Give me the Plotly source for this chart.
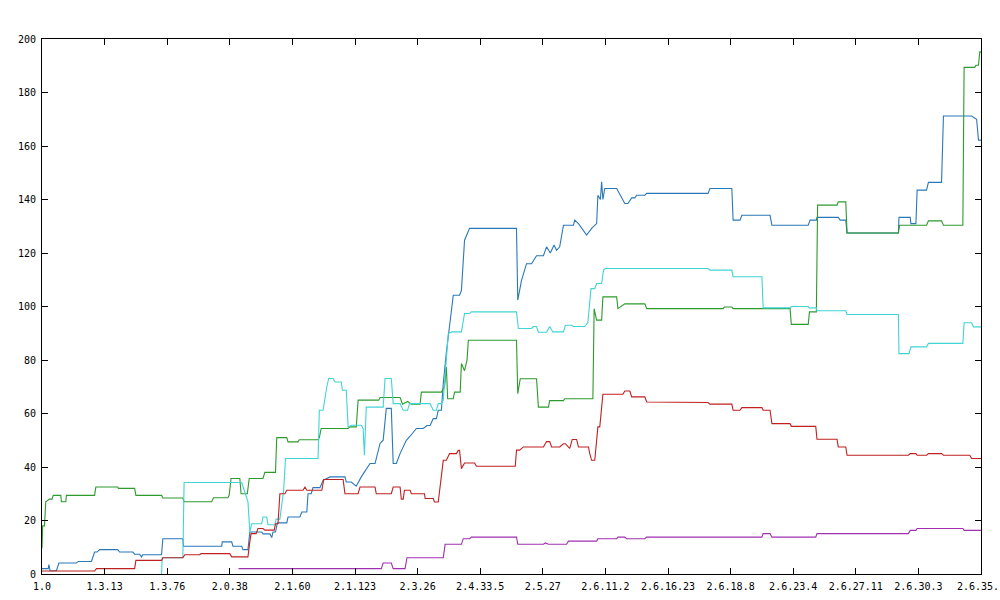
import plotly.graph_objects as go

# x positions are in tick-label units (0 = "1.0", 15 = "2.6.35.x")
tick_labels = ["1.0", "1.3.13", "1.3.76", "2.0.38", "2.1.60", "2.1.123", "2.3.26",
               "2.4.33.5", "2.5.27", "2.6.11.2", "2.6.16.23", "2.6.18.8", "2.6.23.4",
               "2.6.27.11", "2.6.30.3", "2.6.35.1"]
y_ticks = [0, 20, 40, 60, 80, 100, 120, 140, 160, 180, 200]

blue_x = [0, 0.10, 0.11, 0.13, 0.23, 0.27, 0.55, 0.58, 0.79, 0.84, 0.88, 0.92, 1.21, 1.24, 1.45,
          1.48, 1.56, 1.59, 1.61, 1.91, 1.93, 2.25, 2.26, 2.87, 2.88, 3.03, 3.05, 3.19, 3.21, 3.29,
          3.32, 3.51, 3.53, 3.64, 3.67, 3.69, 3.73, 3.76, 3.91, 3.93, 4.12, 4.15, 4.23, 4.25, 4.30,
          4.33, 4.44, 4.49, 4.60, 4.84, 4.86, 4.94, 5.02, 5.10, 5.24, 5.32, 5.40, 5.45, 5.50, 5.58,
          5.61, 5.66, 5.72, 5.82, 5.88, 5.98, 6.09, 6.15, 6.20, 6.25, 6.30, 6.33, 6.38, 6.41, 6.46,
          6.51, 6.55, 6.57, 6.67, 6.70, 6.75, 6.83, 7.58, 7.60, 7.66, 7.74, 7.82, 7.90, 8.01, 8.06,
          8.12, 8.18, 8.22, 8.27, 8.33, 8.49, 8.51, 8.57, 8.70, 8.78, 8.86, 8.88, 8.92, 8.94, 8.96,
          8.99, 9.18, 9.31, 9.36, 9.42, 9.47, 9.50, 9.63, 9.66, 10.64, 10.67, 11.02, 11.04, 11.15,
          11.18, 11.63, 11.66, 12.24, 12.27, 12.37, 12.38, 12.72, 12.75, 12.84, 12.86, 13.68, 13.69,
          13.87, 13.88, 13.96, 13.98, 14.13, 14.16, 14.37, 14.40, 14.85, 14.93, 14.96, 15.0]
blue_y = [2, 2, 3.5, 1.2, 1.2, 4.1, 4.1, 4.7, 4.7, 8.2, 8.2, 9.1, 9.1, 8.2, 8.2,
          7.4, 7.4, 6.4, 7.2, 7.2, 13.2, 13.2, 10.4, 10.4, 12, 12, 10.4, 10.4, 9.1, 9.1,
          15.7, 15.7, 15, 15, 13.6, 15.7, 15.7, 19.1, 19.1, 21.3, 21.3, 23.2, 23.2, 30, 30,
          32.3, 32.3, 35, 36.3, 36.3, 34.4, 34.4, 32.8, 36.3, 41.3, 41.3, 48.8, 50, 61.9, 61.9,
          41.3, 41.3, 45, 50, 51.5, 54.4, 54.4, 55.5, 55.5, 58.1, 58.1, 61.2, 61.2, 71.2, 83,
          92, 100, 104.2, 104.2, 106, 124.8, 129.2, 129.2, 102.4, 109.8, 116, 116, 119, 119, 122.3,
          120, 123, 121, 122.3, 130.4, 130.4, 132.3, 131, 126.7, 129.2, 131, 141.6, 140, 146.6, 140,
          144.1, 144.1, 138.5, 138.5, 140.6, 140.6, 141.6, 141.6, 142.3, 142.3, 144.1, 144.1, 132.3, 132.3,
          134.1, 134.1, 130.4, 130.4, 132.3, 132.3, 133.3, 133.3, 132.3, 132.3, 127.5, 127.5, 133.3,
          133.3, 131, 131, 143.5, 143.5, 146.4, 146.4, 171.2, 171.2, 170, 162.2, 162.2]

green_x = [0, 0.01, 0.04, 0.06, 0.12, 0.16, 0.18, 0.30, 0.31, 0.38, 0.39, 0.84, 0.86, 1.21, 1.22,
           1.48, 1.50, 1.91, 1.93, 2.25, 2.27, 2.71, 2.74, 2.97, 2.99, 3.02, 3.16, 3.18, 3.28, 3.31,
           3.53, 3.56, 3.73, 3.75, 3.91, 3.93, 4.09, 4.11, 4.41, 4.43, 4.46, 4.89, 4.92, 5.02, 5.05,
           5.38, 5.40, 5.72, 5.76, 5.84, 5.90, 6.04, 6.06, 6.38, 6.43, 6.46, 6.48, 6.57, 6.59, 6.68,
           6.70, 6.75, 6.79, 6.81, 7.58, 7.60, 7.64, 7.90, 7.93, 8.09, 8.11, 8.33, 8.35, 8.80, 8.82,
           8.86, 8.94, 8.96, 9.18, 9.20, 9.31, 9.63, 9.66, 10.88, 10.90, 11.02, 11.04, 11.95, 11.97,
           12.24, 12.26, 12.37, 12.39, 12.70, 12.72, 12.84, 12.86, 13.68, 13.70, 14.13, 14.16, 14.37,
           14.40, 14.71, 14.73, 14.90, 14.92, 14.96, 14.98, 15.0]
green_y = [9.5, 18, 18, 27, 28, 28, 29.4, 29.4, 27, 27, 29.4, 29.4, 32.5, 32.5, 32,
           32, 29.4, 29.4, 28.4, 28.4, 27, 27, 28.5, 28.5, 29.4, 35.7, 35.7, 30, 30, 35.7,
           35.7, 38, 38, 51, 51, 49.4, 49.4, 50.2, 50.2, 51, 54.4, 54.4, 55, 55, 65,
           65, 66, 66, 63.5, 64.5, 63.5, 63.5, 68, 68, 70, 77.4, 65.5, 65.5, 68, 68,
           78.7, 76, 80, 87.4, 87.4, 67.4, 73, 73, 62.4, 62.4, 64.8, 64.8, 65.5, 65.5, 99.2,
           94.9, 94.9, 103.6, 103.6, 99.2, 101, 101, 99.2, 99.2, 99.8, 99.8, 99.2, 99.2, 93.3,
           93.3, 98, 98, 137.9, 137.9, 139.1, 139.1, 127.5, 127.5, 130.4, 130.4, 132, 132,
           130.4, 130.4, 189.4, 189.4, 190.2, 190.2, 195.2, 195.2]

cyan_x = [1.91, 1.92, 2.25, 2.27, 3.19, 3.29, 3.32, 3.35, 3.51, 3.53, 3.59, 3.61, 3.72, 3.74, 3.80,
          3.86, 3.89, 4.41, 4.43, 4.49, 4.55, 4.58, 4.65, 4.68, 4.78, 4.80, 4.86, 4.89, 4.94, 5.10,
          5.13, 5.15, 5.18, 5.45, 5.48, 5.58, 5.61, 5.72, 5.77, 5.84, 5.87, 6.20, 6.25, 6.30, 6.33,
          6.38, 6.41, 6.49, 6.55, 6.70, 6.75, 6.83, 6.86, 7.58, 7.61, 7.82, 7.85, 7.90, 7.93, 8.06,
          8.11, 8.16, 8.33, 8.36, 8.46, 8.49, 8.67, 8.72, 8.77, 8.83, 8.86, 8.94, 8.97, 9.0, 10.64,
          10.67, 11.02, 11.04, 11.50, 11.52, 11.95, 11.97, 12.24, 12.26, 12.37, 12.38, 12.84, 12.86,
          13.68, 13.69, 13.85, 13.88, 14.13, 14.16, 14.71, 14.73, 14.85, 14.88, 15.0]
cyan_y = [0, 6.1, 6.1, 34.2, 34.2, 27, 15.7, 18.8, 18.8, 21.3, 21.3, 18.4, 18.4, 20.5, 20.5,
          31.3, 43.2, 43.2, 61.2, 61.2, 70, 73.1, 73.1, 71.8, 71.8, 68.7, 68.7, 55, 55.6, 55.6,
          54.4, 44.4, 62.4, 62.4, 73.1, 73.1, 63.7, 63.7, 61.2, 61.2, 63.7, 63.7, 61.2, 61.2, 63.7,
          63.7, 65, 89.9, 90.5, 90.5, 97.4, 97.4, 98, 98, 91.8, 91.8, 92.5, 92.5, 90.4, 90.4,
          92.5, 90.5, 90.5, 93, 93, 92.5, 92.5, 94, 106.7, 106.7, 108.6, 108.6, 113.6, 114.2, 114.2,
          113.6, 113.6, 111.1, 111.1, 99.5, 99.5, 100, 100, 99.5, 99.5, 98.4, 98.4, 97,
          97, 82.4, 82.4, 84.9, 84.9, 86.2, 86.2, 93.9, 93.9, 92.4, 92.4]

red_x = [0, 0.84, 0.87, 1.48, 1.50, 1.91, 1.93, 2.25, 2.28, 2.52, 2.54, 3.0, 3.03, 3.29, 3.32,
         3.34, 3.42, 3.45, 3.53, 3.56, 3.71, 3.73, 3.77, 3.80, 3.88, 3.91, 4.17, 4.20, 4.23, 4.47,
         4.50, 4.81, 4.84, 5.05, 5.08, 5.32, 5.34, 5.58, 5.61, 5.72, 5.74, 5.77, 5.79, 5.88, 5.90,
         6.11, 6.12, 6.25, 6.27, 6.33, 6.41, 6.46, 6.51, 6.62, 6.65, 6.67, 6.70, 6.75, 6.91, 6.94,
         7.56, 7.58, 7.63, 7.69, 8.01, 8.06, 8.11, 8.14, 8.27, 8.33, 8.36, 8.43, 8.47, 8.54, 8.57,
         8.73, 8.75, 8.78, 8.83, 8.88, 8.91, 8.96, 9.28, 9.31, 9.39, 9.42, 9.63, 9.66, 10.64, 10.67,
         11.02, 11.04, 11.15, 11.18, 11.50, 11.52, 11.63, 11.66, 11.95, 11.97, 12.36, 12.38, 12.70,
         12.72, 12.84, 12.86, 13.84, 13.87, 13.96, 13.98, 14.13, 14.16, 14.37, 14.40, 14.82, 14.85, 15.0]
red_y = [1.1, 1.1, 2, 2, 5.1, 5.1, 6.1, 6.1, 7.2, 7.2, 7.6, 7.6, 6.4, 6.4, 12,
         15.1, 15.1, 17, 17, 16.4, 16.4, 18.8, 18.8, 30, 30, 31.3, 31.3, 32.5, 31.3, 31.3,
         35.3, 35.3, 30, 30, 32.5, 32.5, 30, 30, 32.5, 32.5, 28, 28, 31.3, 31.3, 30,
         30, 28.2, 28.2, 26.9, 26.9, 42.5, 42.5, 45, 45, 46.2, 46.2, 39.4, 41.5, 41.5, 40.3,
         40.3, 46.3, 46.3, 47.5, 47.5, 49.5, 49.5, 47.5, 47.5, 48.7, 48.7, 47, 50.3, 50.3, 47.5,
         47.5, 45, 42.5, 42.5, 55, 55, 67.2, 67.2, 68.4, 68.4, 66.2, 66.2, 64.3, 64.1, 63.5,
         63.5, 61.2, 61.2, 62.2, 62.2, 61.2, 61.2, 56.2, 56.2, 55.2, 55.2, 50.4, 50.4,
         47.5, 47.5, 44.4, 44.4, 45, 45, 44.4, 44.4, 45, 45, 44.4, 44.4, 43.2, 43.2]

purple_x = [3.14, 5.42, 5.45, 5.58, 5.61, 5.80, 5.83, 6.41, 6.44, 6.70, 6.73, 6.83, 6.86, 7.58, 7.60,
            8.01, 8.04, 8.09, 8.38, 8.41, 8.86, 8.88, 9.18, 9.20, 9.31, 9.34, 9.63, 9.66, 11.50,
            11.52, 11.63, 11.66, 12.36, 12.38, 13.84, 13.87, 13.96, 13.98, 14.71, 14.73, 15.0]
purple_y = [2, 2, 4.1, 4.1, 2, 2, 6.1, 6.1, 11.1, 11.1, 13.2, 13.2, 13.8, 13.8, 11.1,
            11.1, 11.6, 11.1, 11.1, 12.3, 12.3, 13.2, 13.2, 13.8, 13.8, 13.2, 13.2, 13.8, 13.8,
            15.1, 15.1, 13.8, 13.8, 15.1, 15.1, 16.3, 16.3, 17, 17, 16.3, 16.3]

series = [
    (blue_x, blue_y, "#2a78b8"),
    (green_x, green_y, "#2c9a2c"),
    (cyan_x, cyan_y, "#40d4d4"),
    (red_x, red_y, "#c02020"),
    (purple_x, purple_y, "#a030b0"),
]

fig = go.Figure()
for xs, ys, col in series:
    fig.add_trace(go.Scatter(x=xs, y=ys, mode="lines", line=dict(color=col, width=1.1),
                             showlegend=False, hoverinfo="skip"))

axis_common = dict(showline=True, linecolor="black", linewidth=1, mirror="ticks",
                   ticks="inside", ticklen=6, tickcolor="black", tickwidth=1,
                   showgrid=False, zeroline=False, ticklabeloverflow="allow",
                   automargin=False,
                   tickfont=dict(family="DejaVu Sans Mono", size=10, color="black"))

fig.update_layout(
    width=1000, height=600,
    margin=dict(l=42, r=19, t=39, b=26, autoexpand=False),
    paper_bgcolor="white", plot_bgcolor="white",
    xaxis=dict(range=[0, 15], tickmode="array", tickvals=list(range(len(tick_labels))),
               ticktext=tick_labels, ticklabelstandoff=3, **axis_common),
    yaxis=dict(range=[0, 200], tickmode="array", tickvals=y_ticks,
               ticklabelstandoff=3, **axis_common),
)

fig.write_html("out.html", config={"displayModeBar": False},
               post_script="document.body.style.margin='0';document.body.style.overflow='hidden';")
